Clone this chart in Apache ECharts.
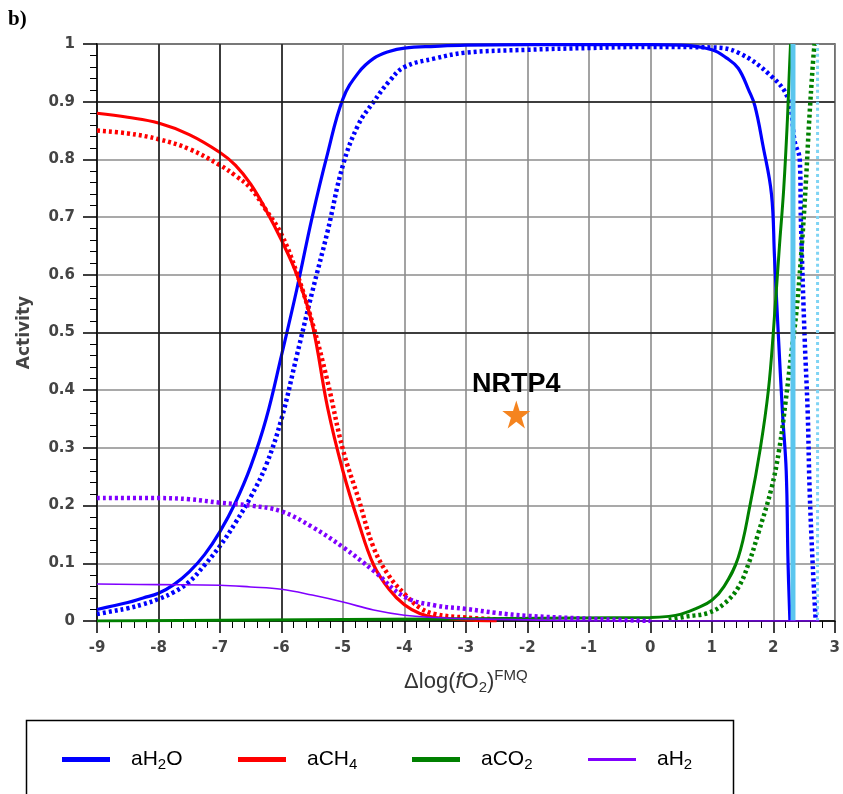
<!DOCTYPE html>
<html>
<head>
<meta charset="utf-8">
<script src="https://cdn.jsdelivr.net/npm/echarts@6/dist/echarts.min.js"></script>
<style>html,body{margin:0;padding:0;background:#fff;}#c{width:843px;height:794px;}</style>
</head>
<body>
<div id="c"></div>
<script>
// ---- data ----
const xTicks = [-9, -8, -7, -6, -5, -4, -3, -2, -1, 0, 1, 2, 3];
const yTicks = [0, 0.1, 0.2, 0.3, 0.4, 0.5, 0.6, 0.7, 0.8, 0.9, 1];

// aH2O, solid
const h2oSolidX = [-9, -8.75, -8.5, -8.25, -8, -7.75, -7.5, -7.25, -7, -6.75, -6.5, -6.25, -6, -5.75, -5.5, -5.25, -5, -4.75, -4.5, -4.25, -4, -3.5, -3, -2, -1, 0, 0.5, 1.0, 1.25, 1.43, 1.6, 1.7, 1.83, 1.97, 2.02, 2.08, 2.15, 2.21, 2.24, 2.27];
const h2oSolidY = [0.02, 0.026, 0.032, 0.04, 0.048, 0.063, 0.085, 0.115, 0.155, 0.205, 0.268, 0.35, 0.46, 0.575, 0.7, 0.81, 0.905, 0.95, 0.975, 0.987, 0.993, 0.996, 0.998, 0.999, 0.999, 0.999, 0.998, 0.99, 0.975, 0.958, 0.92, 0.893, 0.825, 0.74, 0.63, 0.5, 0.36, 0.26, 0.1, 0];
// aH2O, dashed
const h2oDashX = [-9, -8.75, -8.5, -8.25, -8, -7.75, -7.5, -7.25, -7, -6.75, -6.5, -6.25, -6, -5.75, -5.5, -5.25, -5, -4.75, -4.5, -4.25, -4, -3.5, -3, -2, -1, 0, 1.0, 1.43, 1.97, 2.24, 2.35, 2.43, 2.45, 2.51, 2.56, 2.59, 2.64, 2.69];
const h2oDashY = [0.012, 0.017, 0.022, 0.029, 0.038, 0.05, 0.068, 0.097, 0.13, 0.17, 0.215, 0.27, 0.35, 0.46, 0.57, 0.675, 0.79, 0.86, 0.9, 0.935, 0.96, 0.975, 0.985, 0.99, 0.993, 0.995, 0.994, 0.985, 0.944, 0.905, 0.83, 0.8, 0.69, 0.49, 0.36, 0.23, 0.1, 0];

// aCH4, solid
const ch4SolidX = [-9, -8.5, -8, -7.5, -7, -6.75, -6.5, -6.25, -6, -5.75, -5.5, -5.25, -5, -4.75, -4.5, -4.25, -4, -3.75, -3.5, -3, -2.5];
const ch4SolidY = [0.88, 0.873, 0.863, 0.843, 0.812, 0.79, 0.757, 0.712, 0.66, 0.6, 0.515, 0.37, 0.26, 0.172, 0.097, 0.055, 0.028, 0.013, 0.006, 0.002, 0];
// aCH4, dashed
const ch4DashX = [-9, -8.5, -8, -7.5, -7, -6.75, -6.5, -6.25, -6, -5.75, -5.5, -5.25, -5, -4.75, -4.5, -4.25, -4, -3.75, -3.5, -3, -2.5];
const ch4DashY = [0.85, 0.845, 0.835, 0.818, 0.79, 0.772, 0.75, 0.712, 0.67, 0.603, 0.518, 0.415, 0.297, 0.213, 0.127, 0.078, 0.047, 0.023, 0.012, 0.006, 0.003];

// aCO2, solid
const co2SolidX = [-9, 0, 0.3, 0.5, 0.75, 1.0, 1.2, 1.43, 1.62, 1.79, 1.92, 2.0, 2.1, 2.17, 2.23, 2.26, 2.28];
const co2SolidY = [0, 0.006, 0.008, 0.012, 0.022, 0.036, 0.06, 0.11, 0.2, 0.3, 0.4, 0.5, 0.65, 0.75, 0.87, 0.95, 1.0];
// aCO2, dashed
const co2DashX = [0.3, 0.6, 0.94, 1.2, 1.43, 1.6, 1.75, 1.97, 2.1, 2.2, 2.3, 2.37, 2.45, 2.53, 2.58, 2.64, 2.67];
const co2DashY = [0.002, 0.008, 0.014, 0.03, 0.058, 0.1, 0.15, 0.23, 0.3, 0.38, 0.47, 0.53, 0.63, 0.76, 0.86, 0.96, 1.0];

// aH2, thin
const h2SolidX = [-9, -8, -7, -6.5, -6, -5.5, -5, -4.5, -4, -3.5, -3, -2, -1, 2.75];
const h2SolidY = [0.064, 0.063, 0.062, 0.059, 0.055, 0.045, 0.033, 0.019, 0.01, 0.006, 0.004, 0.002, 0, 0];
// aH2, thick dashed
const h2DashX = [-9, -8, -7.5, -7, -6.5, -6, -5.5, -5, -4.5, -4, -3.5, -3, -2.5, -2, -1, 0];
const h2DashY = [0.213, 0.213, 0.211, 0.205, 0.2, 0.19, 0.163, 0.128, 0.087, 0.042, 0.027, 0.021, 0.014, 0.009, 0.004, 0];

// light blue vertical traces
const skySolidX = [2.32, 2.32];
const skySolidY = [0, 1];
const skyDotX = [2.72, 2.72];
const skyDotY = [0, 1];

// sample point
const sampleName = ['NRTP4'];
const sampleX = [-2.18];
const sampleY = [0.358];

// darker grid lines
const darkGridX = [-8, -7, -6];
const darkGridY = [0.5, 0.9];

// ---- chart ----
const zip = (xs, ys) => xs.map((x, i) => [x, ys[i]]);
const BLUE = '#0000ff', RED = '#ff0000', GREEN = '#008000', PURPLE = '#8000ff', SKY = '#5bc6ee';
const DASH = [3, 3];

function lineSeries(name, xs, ys, color, width, type, z) {
  return {
    name: name, type: 'line', data: zip(xs, ys), showSymbol: false, symbol: 'none',
    smooth: 0.4, z: z, color: color, animation: false,
    lineStyle: { color: color, width: width, type: type || 'solid', cap: 'butt' }
  };
}

const star = 'path://M50,0 L61.2,34.5 L97.6,34.5 L68.2,55.9 L79.4,90.5 L50,69.1 L20.6,90.5 L31.8,55.9 L2.4,34.5 L38.8,34.5 Z';

const FONT = 'Liberation Sans, Arial, sans-serif';
const legendRich = {
  a: { fontSize: 21, fontFamily: FONT, color: '#000' },
  g: { fontSize: 21, fontFamily: FONT, color: '#000', padding: [0, 0, 0, 16] },
  s: { fontSize: 15, fontFamily: FONT, color: '#000', padding: [10, 0, 0, 0] }
};
const legendLabels = {
  'aH2O': '{g|aH}{s|2}{a|O}',
  'aCH4': '{g|aCH}{s|4}',
  'aCO2': '{g|aCO}{s|2}',
  'aH2': '{g|aH}{s|2}'
};
function mkLegend(name, left, h) {
  return {
    data: [{ name: name, icon: 'rect' }], left: left, top: 744, orient: 'horizontal',
    itemWidth: 48, itemHeight: h, selectedMode: false,
    formatter: n => legendLabels[n],
    textStyle: { rich: legendRich }
  };
}

const tickFont = { fontFamily: 'DejaVu Sans, sans-serif', fontWeight: 'bold', fontSize: 15, color: '#444' };

const option = {
  animation: false,
  backgroundColor: '#fff',
  grid: { left: 97, right: 6, top: 44, bottom: 173, show: true, borderColor: '#000', borderWidth: 1.5, backgroundColor: 'transparent' },
  xAxis: {
    type: 'value', min: xTicks[0], max: xTicks[xTicks.length - 1], interval: 1,
    axisLine: { show: true, onZero: false, lineStyle: { color: '#000', width: 1.5 } },
    axisTick: { show: true, length: 12, lineStyle: { color: '#000', width: 1.5 } },
    minorTick: { show: true, splitNumber: 5, length: 7, lineStyle: { color: '#000', width: 1 } },
    splitLine: { show: true, lineStyle: { color: '#8c8c8c', width: 1.6 } },
    axisLabel: Object.assign({ margin: 20 }, tickFont),
    name: '{a|Δlog(}{i|f}{a|O}{s|2}{a|)}{p|FMQ}',
    nameLocation: 'middle', nameGap: 47,
    nameTextStyle: {
      rich: {
        a: { fontSize: 22, fontFamily: FONT, color: '#333' },
        i: { fontSize: 22, fontFamily: FONT, fontStyle: 'italic', color: '#333' },
        s: { fontSize: 15, fontFamily: FONT, color: '#333', padding: [12, 0, 0, 0] },
        p: { fontSize: 15, fontFamily: FONT, color: '#333', padding: [0, 0, 13, 0] }
      }
    }
  },
  yAxis: {
    type: 'value', min: yTicks[0], max: yTicks[yTicks.length - 1], interval: 0.1,
    axisLine: { show: true, onZero: false, lineStyle: { color: '#000', width: 1.5 } },
    axisTick: { show: true, length: 14, lineStyle: { color: '#000', width: 1.5 } },
    minorTick: { show: true, splitNumber: 5, length: 7, lineStyle: { color: '#000', width: 1 } },
    splitLine: { show: true, lineStyle: { color: '#8c8c8c', width: 1.6 } },
    axisLabel: Object.assign({ margin: 22 }, tickFont),
    name: 'Activity', nameLocation: 'middle', nameGap: 64, nameRotate: 90,
    nameTextStyle: { fontFamily: 'DejaVu Sans, sans-serif', fontWeight: 'bold', fontSize: 17, color: '#444' }
  },
  legend: [
    mkLegend('aH2O', 57, 5),
    mkLegend('aCH4', 233, 5),
    mkLegend('aCO2', 407, 5),
    mkLegend('aH2', 583, 3)
  ],
  graphic: [
    { type: 'rect', left: 24, top: 718, shape: { width: 707, height: 120 }, style: { fill: 'none', stroke: '#000', lineWidth: 1.5 }, silent: true },
    { type: 'text', left: 8, top: 9, style: { text: 'b)', font: 'bold 21px "Liberation Serif", "Times New Roman", serif', fill: '#000' } }
  ],
  series: [
    {
      name: 'darkgrid', type: 'line', data: [], silent: true, z: 1,
      markLine: {
        silent: true, symbol: 'none', label: { show: false }, animation: false,
        lineStyle: { color: '#1a1a1a', width: 1.5, type: 'solid' },
        data: darkGridX.map(v => ({ xAxis: v })).concat(darkGridY.map(v => ({ yAxis: v })))
      }
    },
    lineSeries('aH2O', h2oSolidX, h2oSolidY, BLUE, 3.2, 'solid', 3),
    lineSeries('aH2O dashed', h2oDashX, h2oDashY, BLUE, 4.5, DASH, 3),
    lineSeries('aCH4', ch4SolidX, ch4SolidY, RED, 3.2, 'solid', 4),
    lineSeries('aCH4 dashed', ch4DashX, ch4DashY, RED, 4.5, DASH, 4),
    lineSeries('aCO2', co2SolidX, co2SolidY, GREEN, 3, 'solid', 5),
    lineSeries('aCO2 dashed', co2DashX, co2DashY, GREEN, 4.5, DASH, 5),
    lineSeries('sky', skySolidX, skySolidY, SKY, 5, 'solid', 6),
    lineSeries('sky dotted', skyDotX, skyDotY, '#7fd4f4', 3, [3, 3], 6),
    lineSeries('aH2', h2SolidX, h2SolidY, PURPLE, 1.6, 'solid', 7),
    lineSeries('aH2 dashed', h2DashX, h2DashY, PURPLE, 4.5, DASH, 7),
    {
      name: 'sample', type: 'scatter', z: 10, symbol: star, symbolSize: 28,
      data: sampleX.map((x, i) => ({ value: [x, sampleY[i]], name: sampleName[i] })),
      itemStyle: { color: '#f5841f', opacity: 1 },
      label: {
        show: true, position: 'top', distance: 2, formatter: p => p.name,
        fontFamily: FONT, fontWeight: 'bold', fontSize: 27, color: '#000'
      }
    }
  ]
};

const chart = echarts.init(document.getElementById('c'), null, { renderer: 'canvas' });
chart.setOption(option);
</script>
</body>
</html>
